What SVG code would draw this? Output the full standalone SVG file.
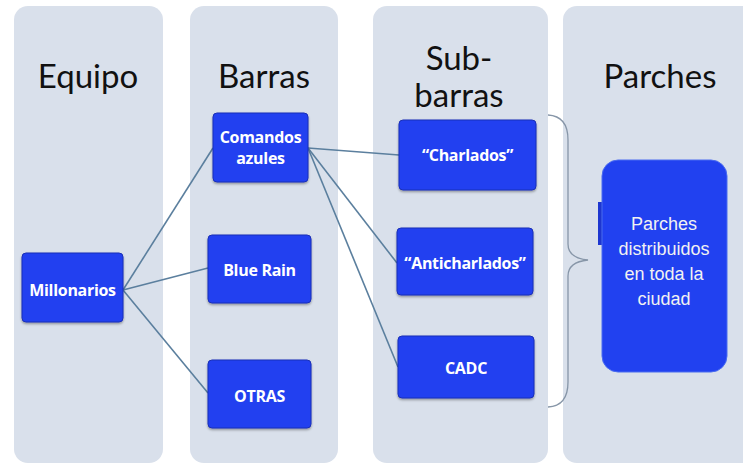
<svg xmlns="http://www.w3.org/2000/svg" width="743" height="464" viewBox="0 0 743 464">
<defs>
<style>
.col{fill:#d9e0eb;}
.hdr{font-family:Lato,"Open Sans",sans-serif;font-size:33px;fill:#111;text-anchor:middle;}
.node{fill:#2141f0;stroke:#1a2fb8;stroke-width:1;}
.lbl{font-family:"Open Sans",Lato,sans-serif;font-size:16px;font-weight:bold;fill:#fff;text-anchor:middle;letter-spacing:-0.3px;}
.lbl2{font-family:"Liberation Sans",Arial,sans-serif;font-size:18px;fill:#f2f2f2;text-anchor:middle;}
.conn{stroke:#5b7f9e;stroke-width:1.6;fill:none;}
.brace{stroke:#8796a8;stroke-width:1.3;fill:none;}
</style>
<filter id="sh" x="-10%" y="-10%" width="120%" height="130%">
<feDropShadow dx="0" dy="1.5" stdDeviation="1.2" flood-color="#000" flood-opacity="0.35"/>
</filter>
</defs>
<rect width="743" height="464" fill="#ffffff"/>
<g id="columns">
<rect class="col" x="14" y="6" width="149" height="457" rx="14"/>
<rect class="col" x="190" y="6" width="148" height="457" rx="14"/>
<rect class="col" x="373" y="6" width="175" height="457" rx="14"/>
<rect class="col" x="563" y="6" width="200" height="457" rx="14"/>
<text class="hdr" x="88" y="88">Equipo</text>
<text class="hdr" x="264" y="88">Barras</text>
<text class="hdr" x="459" y="70">Sub-</text>
<text class="hdr" x="459" y="107">barras</text>
<text class="hdr" x="660" y="88">Parches</text>
</g>
<g id="connectors">
<line class="conn" x1="123" y1="290" x2="213" y2="148"/>
<line class="conn" x1="123" y1="290" x2="208" y2="268"/>
<line class="conn" x1="123" y1="290" x2="208" y2="393"/>
<line class="conn" x1="308" y1="148" x2="399" y2="155"/>
<line class="conn" x1="308" y1="148" x2="397" y2="263"/>
<line class="conn" x1="308" y1="148" x2="398" y2="367"/>
<path class="brace" d="M548,115 Q568,116 568,140 L568,244 Q568,258 588,260 Q568,262 568,276 L568,382 Q568,406 548,407"/>
</g>
<g id="millonarios">
<rect class="node" filter="url(#sh)" x="22" y="253" width="101" height="69" rx="4"/>
<text class="lbl" x="72.5" y="296">Millonarios</text>
</g>
<g id="comandos">
<rect class="node" filter="url(#sh)" x="213" y="113" width="95" height="69" rx="4"/>
<text class="lbl" x="260.5" y="143">Comandos</text>
<text class="lbl" x="260.5" y="164">azules</text>
</g>
<g id="bluerain">
<rect class="node" filter="url(#sh)" x="208" y="235" width="103" height="68" rx="4"/>
<text class="lbl" x="259.5" y="276">Blue Rain</text>
</g>
<g id="otras">
<rect class="node" filter="url(#sh)" x="208" y="360" width="103" height="68" rx="4"/>
<text class="lbl" x="259.5" y="402">OTRAS</text>
</g>
<g id="charlados">
<rect class="node" filter="url(#sh)" x="399" y="120" width="137" height="70" rx="4"/>
<text class="lbl" x="467.5" y="161">“Charlados”</text>
</g>
<g id="anticharlados">
<rect class="node" filter="url(#sh)" x="397" y="228" width="136" height="67" rx="4"/>
<text class="lbl" x="465" y="269">“Anticharlados”</text>
</g>
<g id="cadc">
<rect class="node" filter="url(#sh)" x="398" y="336" width="136" height="62" rx="4"/>
<text class="lbl" x="466" y="374">CADC</text>
</g>
<g id="parches">
<rect x="598" y="202" width="8" height="43" fill="#1d36d0"/>
<rect x="602" y="160" width="125" height="212" rx="16" fill="#2141f0" stroke="#4a6cf0" stroke-width="1"/>
<text class="lbl2" x="664" y="230">Parches</text>
<text class="lbl2" x="664" y="255">distribuidos</text>
<text class="lbl2" x="664" y="280">en toda la</text>
<text class="lbl2" x="664" y="305">ciudad</text>
</g>
</svg>
